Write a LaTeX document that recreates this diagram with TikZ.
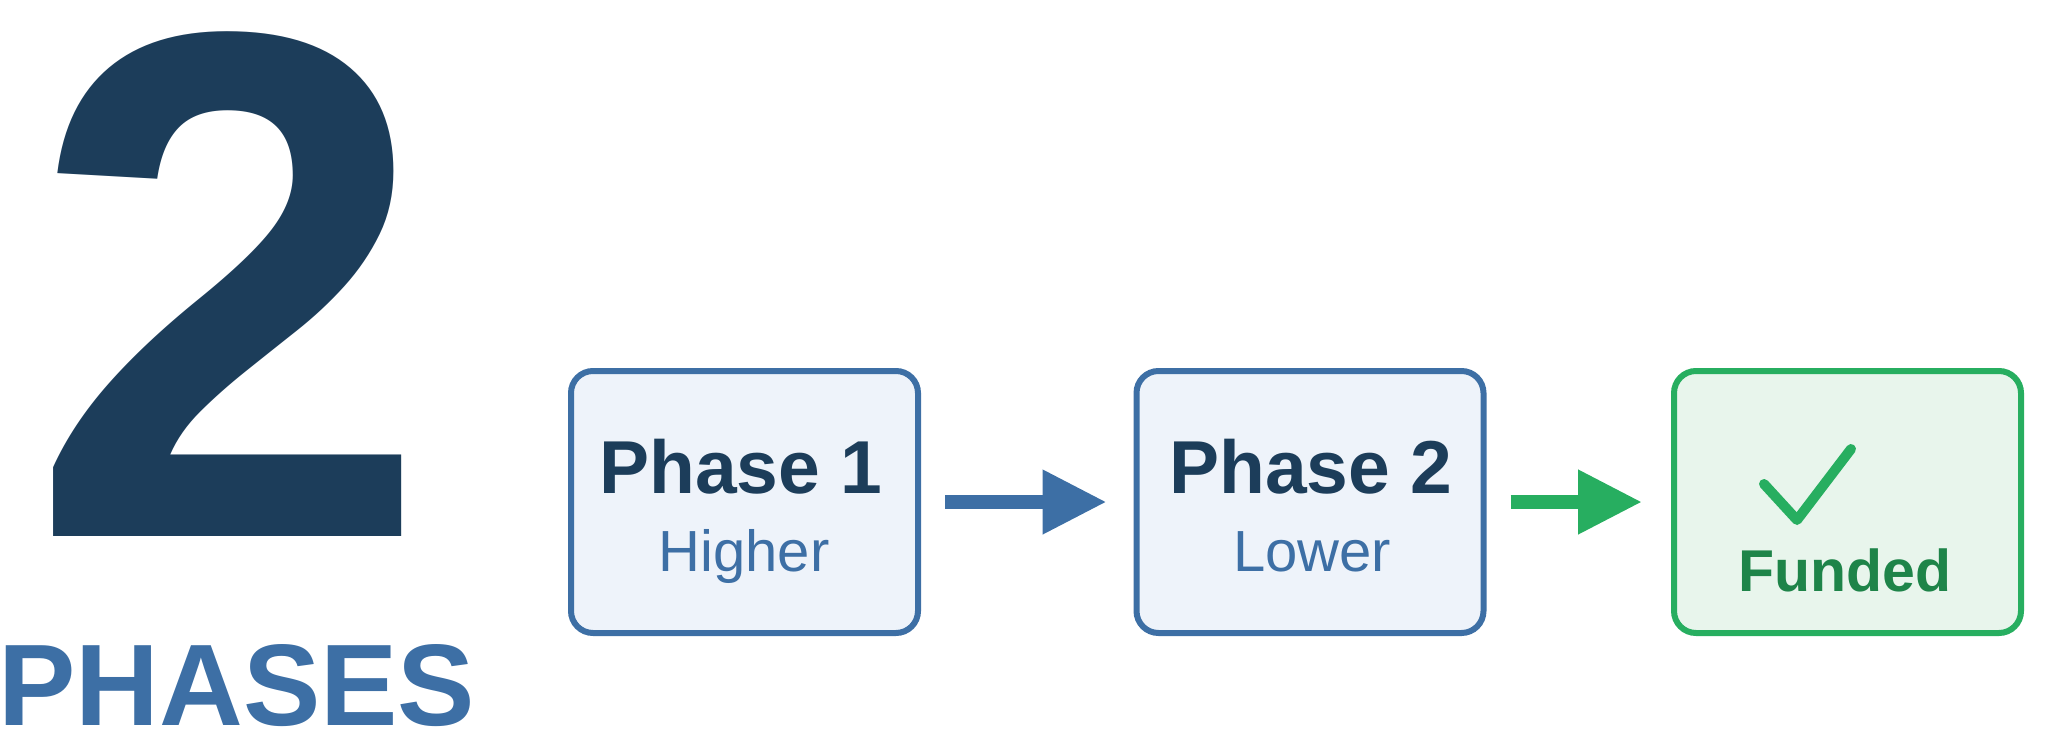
\documentclass[tikz,border=0pt]{standalone}
\usepackage{fontspec}
\setmainfont{Liberation Sans}
\newfontfamily\nb{Liberation Sans}
\usetikzlibrary{arrows.meta}
\definecolor{navy}{HTML}{1C3D5A}
\definecolor{blu}{HTML}{3D6FA5}
\definecolor{grn}{HTML}{27AE60}
\definecolor{dgrn}{HTML}{1E8449}
\definecolor{bfill}{HTML}{EEF3FA}
\definecolor{gfill}{HTML}{E8F5EC}
\begin{document}
\begin{tikzpicture}[x=1pt,y=-1pt,
  box/.style={draw=blu,fill=bfill,line width=6pt,rounded corners=22pt,minimum width=347pt,minimum height=262pt,inner sep=0pt},
  txt/.style={anchor=base,inner sep=0pt},
  conn/.style={line width=14pt,-{Triangle[length=64pt,width=61pt]}}]
\useasboundingbox (0,0) rectangle (2048,755);
\node[txt,text=navy,text height=518pt,text depth=0pt,font=\nb\bfseries\fontsize{723}{723}\selectfont] (two) at (230,536) {2};
\node[anchor=base west,inner sep=0pt,text height=85pt,text depth=0pt,text=blu,font=\nb\bfseries\fontsize{116}{116}\selectfont] (ph) at (-2,725) {PHASES};
\node[box] (b1) at (744.5,502) {};
\node[box] (b2) at (1310,502) {};
\node[box,draw=grn,fill=gfill] (b3) at (1847.5,502) {};
\node[txt,text=navy,font=\nb\bfseries\fontsize{75}{75}\selectfont] (t1) at (741,493) {Phase 1};
\node[txt,text=blu,font=\nb\fontsize{58}{58}\selectfont] (s1) at (744,571) {Higher};
\node[txt,text=navy,font=\nb\bfseries\fontsize{75}{75}\selectfont] (t2) at (1311,493) {Phase 2};
\node[txt,text=blu,font=\nb\fontsize{58}{58}\selectfont] (s2) at (1312,571) {Lower};
\node[txt,text=dgrn,font=\nb\bfseries\fontsize{59}{59}\selectfont] (t3) at (1845,591) {Funded};
\coordinate (c1) at (1764,484);
\coordinate (c2) at (1797,520);
\coordinate (c3) at (1851,449);
\draw[grn,line width=10pt,line cap=round,line join=round] (c1) -- (c2) -- (c3);
\draw[conn,blu,shorten <=24pt,shorten >=27pt] (b1) -- (b2);
\draw[conn,grn,shorten <=24pt,shorten >=29pt] (b2) -- (b3);
\end{tikzpicture}
\end{document}
